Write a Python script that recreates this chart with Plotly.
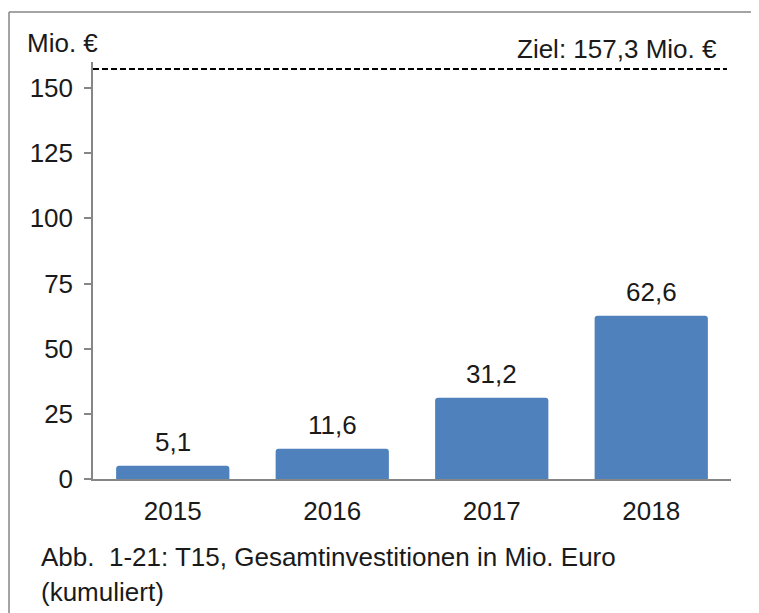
import plotly.graph_objects as go

years = ["2015", "2016", "2017", "2018"]
investments = [5.1, 11.6, 31.2, 62.6]
target_value = 157.3
y_ticks = [0, 25, 50, 75, 100, 125, 150]
unit_label = "Mio. €"
target_label = "Ziel: 157,3 Mio. €"
caption_lines = ["Abb.  1-21: T15, Gesamtinvestitionen in Mio. Euro", "(kumuliert)"]

FONT = "Liberation Sans, Arial, sans-serif"
BLUE = "#4F81BD"
GRAY = "#868686"
TXT = "#1a1a1a"
FS = 26

# page body has an 8px margin; work in screen pixels and compensate
OFF = 8
SW, SH = 759, 613
W, H = SW - OFF, SH - OFF
PL, PR, PT, PB = 93, 731, 62, 479  # plot area in screen pixels
L, T = PL - OFF, PT - OFF
R, B = SW - PR, SH - PB
pw, ph = PR - PL, PB - PT


def px_x(px):
    return (px - PL) / pw


def px_y(py):
    return (PB - py) / ph


fig = go.Figure()
fig.add_trace(go.Bar(
    x=years, y=investments, marker=dict(color=BLUE, line=dict(width=0)),
    hoverinfo="x+y",
))

annotations = []
for i, v in enumerate(investments):
    annotations.append(dict(
        x=i, y=v, xref="x", yref="y", text=f"{v:.1f}".replace(".", ","),
        showarrow=False, yanchor="bottom", yshift=7,
        font=dict(size=FS, color=TXT, family=FONT),
    ))

annotations.append(dict(
    x=px_x(719), y=target_value, xref="paper", yref="y", text=target_label,
    showarrow=False, xanchor="right", yanchor="bottom", yshift=3,
    font=dict(size=FS, color=TXT, family=FONT),
))
annotations.append(dict(
    x=px_x(25), y=px_y(43), xref="paper", yref="paper", text=unit_label,
    showarrow=False, xanchor="left", yanchor="middle",
    font=dict(size=FS, color=TXT, family=FONT),
))
for i, line in enumerate(caption_lines):
    annotations.append(dict(
        x=px_x(39), y=px_y(557 + 35 * i), xref="paper", yref="paper", text=line,
        showarrow=False, xanchor="left", yanchor="middle",
        font=dict(size=FS, color=TXT, family=FONT),
    ))

shapes = [
    dict(type="line", xref="paper", yref="y", x0=0, x1=px_x(727),
         y0=target_value, y1=target_value,
         line=dict(color="black", width=2, dash="6px,3px")),
    dict(type="line", xref="paper", yref="paper", x0=px_x(9), x1=px_x(SW + 5),
         y0=px_y(12), y1=px_y(12), line=dict(color=GRAY, width=1.5)),
    dict(type="line", xref="paper", yref="paper", x0=px_x(9), x1=px_x(9),
         y0=px_y(12), y1=px_y(SH + 5), line=dict(color=GRAY, width=1.5)),
]

fig.update_layout(
    width=W, height=H,
    margin=dict(l=L, r=R, t=T, b=B, pad=0, autoexpand=False),
    paper_bgcolor="white", plot_bgcolor="white",
    showlegend=False,
    bargap=0.29,
    barcornerradius=3,
    font=dict(family=FONT, size=FS, color=TXT),
    annotations=annotations,
    shapes=shapes,
    xaxis=dict(
        type="category", range=[-0.5, len(years) - 0.5], autorange=False,
        showgrid=False, showline=True, linecolor=GRAY, linewidth=1.5,
        ticks="", tickfont=dict(size=FS, family=FONT, color=TXT),
        ticklabelstandoff=8, zeroline=False,
    ),
    yaxis=dict(
        range=[0, 160], autorange=False, tickvals=y_ticks, showgrid=False,
        zeroline=False, showline=True, linecolor=GRAY, linewidth=1.5,
        ticks="outside", ticklen=7, tickcolor=GRAY, tickwidth=1.5,
        tickfont=dict(size=FS, family=FONT, color=TXT),
        ticklabelstandoff=6,
    ),
)

fig.write_html("out.html")
